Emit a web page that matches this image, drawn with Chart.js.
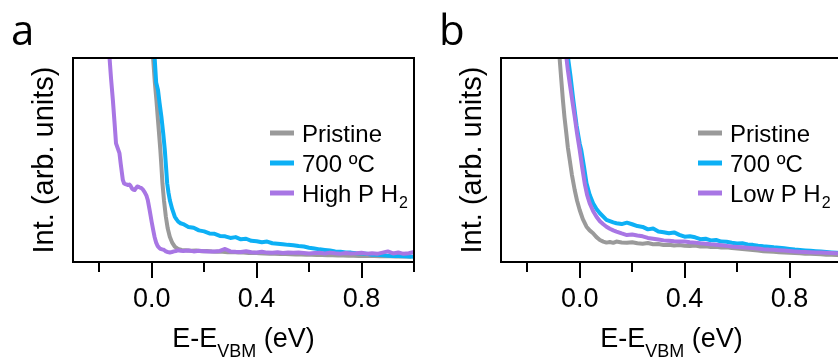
<!DOCTYPE html>
<html>
<head>
<meta charset="utf-8">
<script src="https://cdn.jsdelivr.net/npm/chart.js@4.4.0/dist/chart.umd.min.js"></script>
<style>
  body { margin: 0; background: #fff; overflow: hidden; width: 838px; height: 360px; position: relative; }
  .panel { position: absolute; top: 0; width: 428px; height: 360px; }
</style>
</head>
<body>
<div class="panel" style="left:0"><canvas id="chartA" width="428" height="360"></canvas></div>
<div class="panel" style="left:428px"><canvas id="chartB" width="428" height="360"></canvas></div>
<script>
// x axis ticks (eV); only some get a label
const tickStep = 0.2;
const labelledTicks = [0.0, 0.4, 0.8];
const xMin = -0.3;
const xMax = 1.0;

const seriesColors = ['#9a9a9a', '#0db0f5', '#a876e4'];

// ---- panel a ----
const legendA = ['Pristine', '700 ºC', 'High P H'];
const legendSubA = ['', '', '2'];

const pristineA_x = [0.003, 0.005, 0.012, 0.018, 0.023, 0.028, 0.033, 0.037, 0.041, 0.047, 0.054, 0.061, 0.069, 0.078, 0.088, 0.100, 0.114,
  0.13, 0.15, 0.17, 0.19, 0.21, 0.23, 0.25, 0.27, 0.29, 0.31, 0.33, 0.35, 0.37, 0.39, 0.41, 0.43, 0.45, 0.47, 0.49, 0.51, 0.53, 0.55,
  0.57, 0.59, 0.61, 0.63, 0.65, 0.67, 0.69, 0.71, 0.73, 0.75, 0.77, 0.79, 0.81, 0.83, 0.85, 0.87, 0.89, 0.91, 0.93, 0.95, 0.97, 0.99];
const pristineA_y = [1.10, 1.006, 0.88, 0.794, 0.71, 0.631, 0.549, 0.47, 0.386, 0.30, 0.222, 0.165, 0.124, 0.095, 0.075, 0.064, 0.059,
  0.058, 0.055, 0.056, 0.053, 0.054, 0.051, 0.050, 0.050, 0.048, 0.049, 0.046, 0.046, 0.044, 0.045, 0.043, 0.042, 0.041, 0.041, 0.039, 0.039, 0.038, 0.037,
  0.037, 0.036, 0.035, 0.034, 0.034, 0.033, 0.033, 0.032, 0.032, 0.031, 0.031, 0.030, 0.030, 0.029, 0.029, 0.028, 0.028, 0.028, 0.027, 0.027, 0.027, 0.026];

const annealA_x = [0.009, 0.011, 0.017, 0.024, 0.030, 0.037, 0.044, 0.050, 0.055, 0.059, 0.064, 0.069, 0.078, 0.088, 0.094, 0.101, 0.110,
  0.12, 0.14, 0.16, 0.18, 0.20, 0.22, 0.24, 0.26, 0.28, 0.30, 0.32, 0.34, 0.36, 0.38, 0.40, 0.42, 0.44, 0.46, 0.48, 0.50, 0.52, 0.54,
  0.56, 0.58, 0.60, 0.62, 0.64, 0.66, 0.68, 0.70, 0.72, 0.74, 0.76, 0.78, 0.80, 0.82, 0.84, 0.86, 0.88, 0.90, 0.92, 0.94, 0.96, 0.98, 1.00];
const annealA_y = [1.10, 1.006, 0.88, 0.843, 0.78, 0.712, 0.63, 0.549, 0.46, 0.386, 0.34, 0.304, 0.26, 0.222, 0.21, 0.198, 0.19,
  0.186, 0.172, 0.168, 0.155, 0.150, 0.140, 0.138, 0.128, 0.126, 0.118, 0.122, 0.111, 0.114, 0.104, 0.102, 0.097, 0.100, 0.092, 0.090, 0.087, 0.084, 0.082,
  0.078, 0.076, 0.070, 0.066, 0.062, 0.059, 0.056, 0.052, 0.050, 0.047, 0.046, 0.043, 0.042, 0.040, 0.036, 0.035, 0.033, 0.031, 0.030, 0.029, 0.028, 0.027, 0.026];

const h2A_x = [-0.170, -0.161, -0.155, -0.148, -0.142, -0.136, -0.130, -0.123, -0.118, -0.115, -0.110, -0.105, -0.100, -0.095, -0.090, -0.085,
  -0.080, -0.075, -0.070, -0.065, -0.060, -0.055, -0.050, -0.045, -0.040, -0.034, -0.027, -0.020, -0.015, -0.008, 0.000, 0.006, 0.011,
  0.017, 0.023, 0.031, 0.040, 0.046, 0.054, 0.061, 0.069, 0.077, 0.085, 0.092, 0.100, 0.110,
  0.12, 0.14, 0.16, 0.18, 0.20, 0.22, 0.24, 0.26, 0.28, 0.30, 0.32, 0.34, 0.36, 0.38, 0.40, 0.42, 0.44, 0.46, 0.48, 0.50, 0.52, 0.54,
  0.56, 0.58, 0.60, 0.62, 0.64, 0.66, 0.68, 0.70, 0.72, 0.74, 0.76, 0.78, 0.80, 0.82, 0.84, 0.86, 0.88, 0.90, 0.92, 0.94, 0.96, 0.98, 1.00];
const h2A_y = [1.12, 1.006, 0.90, 0.794, 0.69, 0.582, 0.559, 0.534, 0.48, 0.451, 0.402, 0.385, 0.382, 0.380, 0.377, 0.380,
  0.372, 0.360, 0.355, 0.353, 0.362, 0.370, 0.368, 0.365, 0.363, 0.356, 0.343, 0.325, 0.304, 0.255, 0.196, 0.155, 0.123,
  0.095, 0.078, 0.066, 0.062, 0.060, 0.052, 0.049, 0.047, 0.049, 0.052, 0.054, 0.057, 0.055,
  0.054, 0.056, 0.052, 0.055, 0.053, 0.051, 0.052, 0.054, 0.064, 0.052, 0.050, 0.049, 0.053, 0.048, 0.047, 0.050, 0.046, 0.045, 0.048, 0.044, 0.047, 0.045,
  0.046, 0.044, 0.042, 0.044, 0.045, 0.042, 0.046, 0.043, 0.041, 0.044, 0.042, 0.043, 0.045, 0.041, 0.043, 0.040, 0.046, 0.052, 0.042, 0.047, 0.040, 0.043, 0.049];

// ---- panel b ----
const legendB = ['Pristine', '700 ºC', 'Low P H'];
const legendSubB = ['', '', '2'];

const pristineB_x = [-0.080, -0.077, -0.070, -0.064, -0.058, -0.051, -0.045, -0.038, -0.030, -0.019, -0.010, 0.000, 0.012, 0.026, 0.038,
  0.051, 0.064, 0.077, 0.090, 0.102, 0.115, 0.128,
  0.14, 0.16, 0.18, 0.20, 0.22, 0.24, 0.26, 0.28, 0.30, 0.32, 0.34, 0.36, 0.38, 0.40, 0.42, 0.44, 0.46, 0.48, 0.50, 0.52, 0.54,
  0.56, 0.58, 0.60, 0.62, 0.64, 0.66, 0.68, 0.70, 0.72, 0.74, 0.76, 0.78, 0.80, 0.82, 0.84, 0.86, 0.88, 0.90, 0.92, 0.94, 0.96, 0.98, 1.00];
const pristineB_y = [1.10, 1.006, 0.89, 0.794, 0.71, 0.631, 0.56, 0.50, 0.43, 0.353, 0.30, 0.255, 0.21, 0.173, 0.155,
  0.141, 0.122, 0.108, 0.100, 0.095, 0.098, 0.094,
  0.100, 0.096, 0.094, 0.097, 0.092, 0.090, 0.093, 0.087, 0.088, 0.083, 0.085, 0.081, 0.083, 0.080, 0.079, 0.081, 0.076, 0.077, 0.074, 0.075, 0.071,
  0.072, 0.068, 0.066, 0.064, 0.061, 0.059, 0.056, 0.053, 0.051, 0.050, 0.048, 0.047, 0.045, 0.044, 0.043, 0.041, 0.040, 0.039, 0.038, 0.036, 0.035, 0.034, 0.033];

const annealB_x = [-0.048, -0.045, -0.035, -0.025, -0.012, 0.000, 0.006, 0.016, 0.026, 0.038, 0.051, 0.064, 0.077, 0.090, 0.102, 0.115, 0.128,
  0.14, 0.16, 0.18, 0.20, 0.22, 0.24, 0.26, 0.28, 0.30, 0.32, 0.34, 0.36, 0.38, 0.40, 0.42, 0.44, 0.46, 0.48, 0.50, 0.52, 0.54,
  0.56, 0.58, 0.60, 0.62, 0.64, 0.66, 0.68, 0.70, 0.72, 0.74, 0.76, 0.78, 0.80, 0.82, 0.84, 0.86, 0.88, 0.90, 0.92, 0.94, 0.96, 0.98, 1.00];
const annealB_y = [1.10, 1.006, 0.91, 0.80, 0.67, 0.58, 0.549, 0.47, 0.386, 0.33, 0.288, 0.26, 0.239, 0.222, 0.206, 0.200, 0.194,
  0.190, 0.186, 0.193, 0.185, 0.176, 0.172, 0.160, 0.164, 0.150, 0.146, 0.141, 0.145, 0.133, 0.124, 0.126, 0.121, 0.112, 0.114, 0.106, 0.108, 0.100,
  0.099, 0.094, 0.091, 0.092, 0.086, 0.084, 0.080, 0.077, 0.075, 0.072, 0.070, 0.067, 0.064, 0.061, 0.059, 0.057, 0.055, 0.053, 0.051, 0.049, 0.047, 0.045, 0.043];

const h2B_x = [-0.055, -0.051, -0.045, -0.038, -0.028, -0.019, -0.010, 0.000, 0.010, 0.019, 0.028, 0.038, 0.051, 0.064, 0.077, 0.090, 0.102, 0.115, 0.128,
  0.14, 0.16, 0.18, 0.20, 0.22, 0.24, 0.26, 0.28, 0.30, 0.32, 0.34, 0.36, 0.38, 0.40, 0.42, 0.44, 0.46, 0.48, 0.50, 0.52, 0.54,
  0.56, 0.58, 0.60, 0.62, 0.64, 0.66, 0.68, 0.70, 0.72, 0.74, 0.76, 0.78, 0.80, 0.82, 0.84, 0.86, 0.88, 0.90, 0.92, 0.94, 0.96, 0.98, 1.00];
const h2B_y = [1.10, 1.006, 0.94, 0.876, 0.79, 0.712, 0.63, 0.549, 0.46, 0.386, 0.33, 0.288, 0.25, 0.222, 0.200, 0.185, 0.173, 0.163, 0.155,
  0.149, 0.140, 0.132, 0.135, 0.130, 0.126, 0.118, 0.114, 0.110, 0.106, 0.104, 0.102, 0.101, 0.100, 0.097, 0.095, 0.092, 0.090, 0.087, 0.085, 0.082,
  0.079, 0.076, 0.074, 0.072, 0.070, 0.068, 0.066, 0.063, 0.061, 0.060, 0.058, 0.056, 0.054, 0.052, 0.050, 0.049, 0.048, 0.047, 0.046, 0.045, 0.044, 0.043, 0.042];

const FONT = '"Liberation Sans", Arial, sans-serif';

function toPoints(xs, ys) {
    return xs.map((x, i) => ({ x: x, y: ys[i] }));
}

function isLabelled(v) {
    return labelledTicks.some(t => Math.abs(t - v) < 1e-6);
}

// frame, tick marks, axis titles, legend and panel letter
const panelDecor = {
    id: 'panelDecor',
    afterDraw(chart, args, opts) {
        const ctx = chart.ctx;
        const area = chart.chartArea;
        const xScale = chart.scales.x;
        ctx.save();

        ctx.strokeStyle = '#000';
        ctx.lineWidth = 2;
        ctx.strokeRect(area.left, area.top, area.right - area.left, area.bottom - area.top);

        xScale.ticks.forEach(t => {
            const px = Math.round(xScale.getPixelForValue(t.value));
            const len = isLabelled(t.value) ? 16 : 10;
            ctx.beginPath();
            ctx.moveTo(px, area.bottom);
            ctx.lineTo(px, area.bottom + len);
            ctx.stroke();
        });

        ctx.fillStyle = '#000';

        // x title with subscript
        const mid = (area.left + area.right) / 2;
        const big = '27px ' + FONT, small = '18px ' + FONT;
        ctx.font = big;
        const w1 = ctx.measureText('E-E').width;
        const w3 = ctx.measureText(' (eV)').width;
        ctx.font = small;
        const w2 = ctx.measureText('VBM').width;
        let x0 = mid - (w1 + w2 + w3) / 2;
        ctx.textBaseline = 'alphabetic';
        ctx.textAlign = 'left';
        ctx.font = big;
        ctx.fillText('E-E', x0, 347);
        ctx.font = small;
        ctx.fillText('VBM', x0 + w1, 357);
        ctx.font = big;
        ctx.fillText(' (eV)', x0 + w1 + w2, 347);

        // y title
        ctx.save();
        ctx.translate(53, (area.top + area.bottom) / 2);
        ctx.rotate(-Math.PI / 2);
        ctx.font = '29px ' + FONT;
        ctx.textAlign = 'center';
        ctx.fillText('Int. (arb. units)', 0, 0);
        ctx.restore();

        // legend
        opts.labels.forEach((label, i) => {
            const y = 133 + i * 30;
            ctx.strokeStyle = seriesColors[i];
            ctx.lineWidth = 5;
            ctx.beginPath();
            ctx.moveTo(270, y);
            ctx.lineTo(294, y);
            ctx.stroke();
            ctx.font = '24px ' + FONT;
            ctx.fillStyle = '#000';
            ctx.fillText(label, 302, y + 9);
            if (opts.subs[i]) {
                const lw = ctx.measureText(label).width;
                ctx.font = '16px ' + FONT;
                ctx.fillText(opts.subs[i], 302 + lw + 1, y + 15);
            }
        });

        // panel letter
        ctx.font = '42px "Open Sans", sans-serif';
        ctx.fillText(opts.letter, 11, 45);

        ctx.restore();
    }
};

function makePanel(canvasId, letter, labels, subs, series) {
    const ctx = document.getElementById(canvasId).getContext('2d');
    const orders = [3, 2, 1];
    return new Chart(ctx, {
        type: 'line',
        data: {
            datasets: series.map((pts, i) => ({
                label: labels[i] + subs[i],
                data: pts,
                borderColor: seriesColors[i],
                borderWidth: 4,
                pointRadius: 0,
                tension: 0,
                fill: false,
                order: orders[i],
                borderJoinStyle: 'round'
            }))
        },
        options: {
            responsive: false,
            animation: false,
            devicePixelRatio: 1,
            layout: { padding: { left: 73, right: 14, top: 58, bottom: 0 } },
            plugins: {
                legend: { display: false },
                tooltip: { enabled: false },
                panelDecor: { letter: letter, labels: labels, subs: subs }
            },
            scales: {
                x: {
                    type: 'linear',
                    min: xMin,
                    max: xMax,
                    // invisible tick gap keeps labels low without widening the right padding
                    grid: { display: true, drawOnChartArea: false, drawTicks: true, tickLength: 21, color: 'rgba(0,0,0,0)' },
                    border: { display: false },
                    ticks: {
                        stepSize: tickStep,
                        includeBounds: false,
                        autoSkip: false,
                        maxRotation: 0,
                        padding: 0,
                        color: '#000',
                        font: { family: FONT, size: 27 },
                        callback: v => isLabelled(v) ? v.toFixed(1) : ''
                    },
                    afterFit: scale => { scale.height = 98; }
                },
                y: {
                    display: false,
                    min: 0,
                    max: 1
                }
            }
        },
        plugins: [panelDecor]
    });
}

makePanel('chartA', 'a', legendA, legendSubA, [
    toPoints(pristineA_x, pristineA_y),
    toPoints(annealA_x, annealA_y),
    toPoints(h2A_x, h2A_y)
]);

makePanel('chartB', 'b', legendB, legendSubB, [
    toPoints(pristineB_x, pristineB_y),
    toPoints(annealB_x, annealB_y),
    toPoints(h2B_x, h2B_y)
]);
</script>
</body>
</html>
